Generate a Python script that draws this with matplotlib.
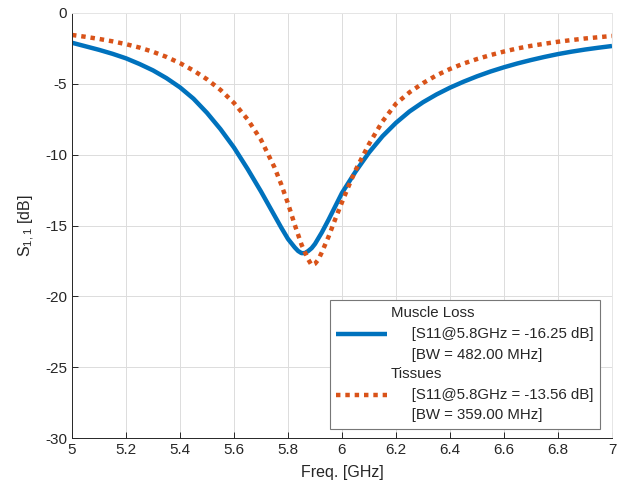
import matplotlib
matplotlib.use("Agg")
import matplotlib.pyplot as plt

plt.rcParams['font.family'] = ['Liberation Sans', 'DejaVu Sans']
plt.rcParams['mathtext.fontset'] = 'custom'
plt.rcParams['mathtext.rm'] = 'Liberation Sans'
plt.rcParams['mathtext.it'] = 'Liberation Sans:italic'
plt.rcParams['axes.unicode_minus'] = False

freq_muscle = [5.00, 5.05, 5.10, 5.15, 5.20, 5.25, 5.30, 5.35, 5.40, 5.45, 5.50, 5.55,
               5.60, 5.65, 5.70, 5.75, 5.775, 5.80, 5.825, 5.8375, 5.85, 5.8625, 5.875, 5.8875,
               5.90, 5.925, 5.95, 5.975, 6.00, 6.05,
               6.10, 6.15, 6.20, 6.25, 6.30, 6.35, 6.40, 6.45, 6.50, 6.55, 6.60, 6.65,
               6.70, 6.75, 6.80, 6.85, 6.90, 6.95, 7.00]
s11_muscle = [-2.1, -2.35, -2.6, -2.88, -3.2, -3.6, -4.05, -4.6, -5.25, -6.05, -7.05, -8.2,
              -9.5, -11.0, -12.6, -14.3, -15.15, -15.95, -16.55, -16.8, -16.95, -16.95, -16.8, -16.6,
              -16.3, -15.5, -14.6, -13.65, -12.7, -11.2,
              -9.85, -8.7, -7.75, -6.95, -6.3, -5.75, -5.27, -4.85, -4.47, -4.13, -3.83, -3.56,
              -3.32, -3.1, -2.9, -2.73, -2.58, -2.45, -2.33]

freq_tissue = [5.00, 5.05, 5.10, 5.15, 5.20, 5.25, 5.30, 5.35, 5.40, 5.45, 5.50, 5.55,
               5.60, 5.65, 5.70, 5.75, 5.775, 5.80, 5.825, 5.85, 5.875, 5.8875, 5.90, 5.9125,
               5.925, 5.95, 5.975, 6.00, 6.025, 6.05, 6.10, 6.15, 6.20, 6.25, 6.30, 6.35,
               6.40, 6.45, 6.50, 6.55, 6.60, 6.65, 6.70, 6.75, 6.80, 6.85, 6.90, 6.95, 7.00]
s11_tissue = [-1.55, -1.68, -1.83, -2.0, -2.2, -2.44, -2.74, -3.1, -3.54, -4.06, -4.68, -5.43,
              -6.35, -7.5, -8.95, -10.9, -12.1, -13.45, -14.95, -16.35, -17.4, -17.8, -17.7, -17.4,
              -16.9, -15.8, -14.55, -13.35, -12.2, -11.1, -9.25, -7.65, -6.4, -5.6, -4.95, -4.4,
              -3.95, -3.57, -3.25, -2.97, -2.72, -2.5, -2.32, -2.17, -2.03, -1.91, -1.8, -1.71, -1.62]

labels = ["Muscle Loss\n     [S11@5.8GHz = -16.25 dB]\n     [BW = 482.00 MHz]",
          "Tissues\n     [S11@5.8GHz = -13.56 dB]\n     [BW = 359.00 MHz]"]
xticks = [5, 5.2, 5.4, 5.6, 5.8, 6, 6.2, 6.4, 6.6, 6.8, 7]
xticklabels = ["5", "5.2", "5.4", "5.6", "5.8", "6", "6.2", "6.4", "6.6", "6.8", "7"]
yticks = [-30, -25, -20, -15, -10, -5, 0]

fig = plt.figure(figsize=(6.17, 4.97), dpi=100)
ax = fig.add_axes([72/617, 1-438/497, (612-72)/617, (438-13)/497])

ax.plot(freq_muscle, s11_muscle, color='#0072BD', lw=3.2, label=labels[0],
        solid_capstyle='butt', solid_joinstyle='round')
ax.plot(freq_tissue, s11_tissue, color='#D95319', lw=3.2, linestyle=(0, (1, 1.1)),
        dash_capstyle='butt', label=labels[1])

ax.set_xlim(5, 7)
ax.set_ylim(-30, 0)
ax.set_xticks(xticks)
ax.set_xticklabels(xticklabels)
ax.set_yticks(yticks)
ax.grid(True, color='#dcdcdc', lw=0.7)
ax.set_axisbelow(True)
ax.tick_params(direction='in', length=4, colors='#262626', labelsize=11, width=0.7)
for s in ax.spines.values():
    s.set_color('#262626')
    s.set_linewidth(0.7)
ax.spines['top'].set_color('#e6e6e6')
ax.spines['right'].set_color('#e6e6e6')
ax.tick_params(top=False, right=False)

ax.set_xlabel("Freq. [GHz]", fontsize=11.5, color='#262626', labelpad=6)
ax.set_ylabel(r"$\mathrm{S}_{1,1}$ [dB]", fontsize=11.5, color='#262626', labelpad=6)

leg = ax.legend(loc='upper left', bbox_to_anchor=(330/617, 1-300/497), bbox_transform=fig.transFigure,
                fontsize=10.8, frameon=True, fancybox=False, framealpha=1, edgecolor='#777777',
                handlelength=3.4, handletextpad=0.25, labelspacing=0.32, borderpad=0.42,
                borderaxespad=0)
leg.get_frame().set_linewidth(0.8)
for t in leg.get_texts():
    t.set_linespacing(1.62)
    t.set_color('#262626')

fig.savefig("out.png", dpi=100)
